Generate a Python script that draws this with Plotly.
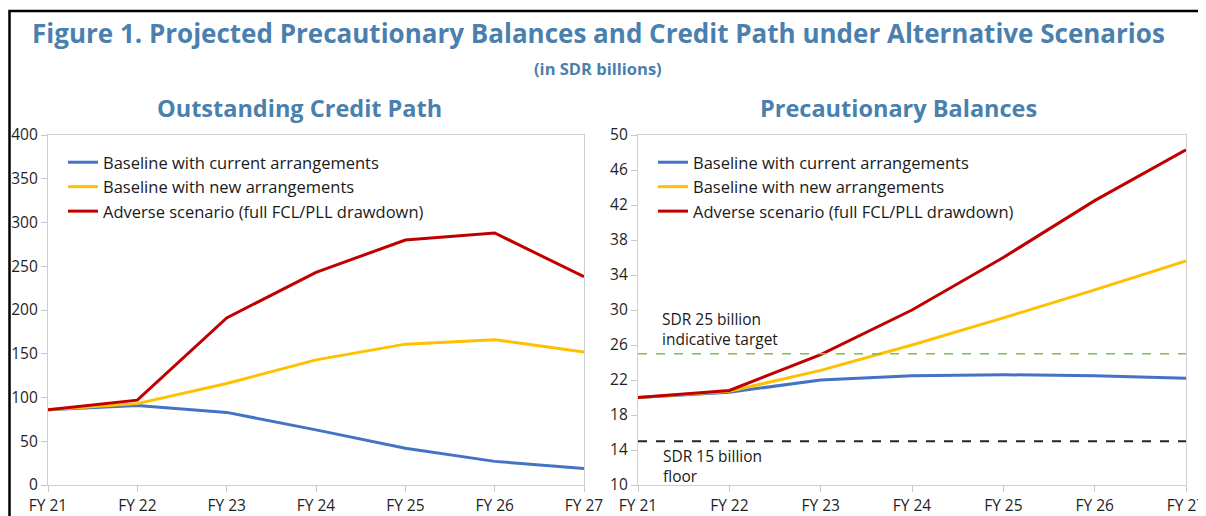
import plotly.graph_objects as go

# DATA
years = ["FY 21", "FY 22", "FY 23", "FY 24", "FY 25", "FY 26", "FY 27"]

credit_current = [86, 91, 83, 63, 42, 27, 19]
credit_new = [86, 93, 116, 143, 161, 166, 152]
credit_adverse = [86, 97, 191, 243, 280, 288, 238]

balances_current = [20.0, 20.6, 22.0, 22.5, 22.6, 22.5, 22.2]
balances_new = [20.0, 20.7, 23.1, 26.0, 29.1, 32.3, 35.6]
balances_adverse = [20.0, 20.8, 24.9, 30.0, 36.0, 42.5, 48.3]

series_names = [
    "Baseline with current arrangements",
    "Baseline with new arrangements",
    "Adverse scenario (full FCL/PLL drawdown)",
]
series_colors = ["#4472C4", "#FFC000", "#C00000"]

target_level = 25
floor_level = 15

credit_ticks = [0, 50, 100, 150, 200, 250, 300, 350, 400]
balance_ticks = [10, 14, 18, 22, 26, 30, 34, 38, 42, 46, 50]

# the page body adds an 8px margin, so the figure is sized and placed to suit
OFF = 8
W, H = 1206 - OFF, 516 - OFF
FONT = "Open Sans"
BLUE_TITLE = "#4A7FAE"


def px_x(p):
    return (p - OFF) / W


def px_y(p):
    return 1 - (p - OFF) / H


fig = go.Figure()

left = [credit_current, credit_new, credit_adverse]
right = [balances_current, balances_new, balances_adverse]
for i, (name, color) in enumerate(zip(series_names, series_colors)):
    fig.add_trace(go.Scatter(
        x=years, y=left[i], name=name, mode="lines",
        line=dict(color=color, width=3),
        xaxis="x", yaxis="y", legend="legend", legendgroup=f"l{i}",
    ))
for i, (name, color) in enumerate(zip(series_names, series_colors)):
    fig.add_trace(go.Scatter(
        x=years, y=right[i], name=name, mode="lines",
        line=dict(color=color, width=3),
        xaxis="x2", yaxis="y2", legend="legend2", legendgroup=f"r{i}",
    ))

axis_common = dict(
    showline=True, mirror=True, linecolor="#d0d0d0", linewidth=1.2,
    ticks="outside", ticklen=6, tickcolor="#c8c8c8",
    showgrid=False, zeroline=False, automargin=False,
    tickfont=dict(family=FONT, size=15.5, color="#1f1f1f"),
)
xdom_left = [px_x(48), px_x(584)]
xdom_right = [px_x(638), px_x(1186)]
ydom = [px_y(485), px_y(135)]

legend_common = dict(
    xanchor="left", yanchor="top", bgcolor="rgba(0,0,0,0)",
    font=dict(family=FONT, size=16.5, color="#1a1a1a"),
    traceorder="grouped", tracegroupgap=0, itemclick=False,
)

fig.update_layout(
    width=W, height=H,
    margin=dict(l=0, r=0, t=0, b=0),
    paper_bgcolor="white", plot_bgcolor="white",
    font=dict(family=FONT),
    xaxis=dict(domain=xdom_left, anchor="y", type="category", range=[0, 6], **axis_common),
    yaxis=dict(domain=ydom, anchor="x", range=[0, 400], tickvals=credit_ticks, **axis_common),
    xaxis2=dict(domain=xdom_right, anchor="y2", type="category", range=[0, 6], **axis_common),
    yaxis2=dict(domain=ydom, anchor="x2", range=[10, 50], tickvals=balance_ticks, **axis_common),
    legend=dict(x=px_x(63), y=px_y(145), **legend_common),
    legend2=dict(x=px_x(653), y=px_y(145), **legend_common),
)

# reference lines on precautionary balances
fig.add_shape(type="line", xref="x2 domain", yref="y2", x0=0, x1=1,
              y0=target_level, y1=target_level,
              line=dict(color="#7CC24A", width=1.6, dash="dash"))
fig.add_shape(type="line", xref="x2 domain", yref="y2", x0=0, x1=1,
              y0=floor_level, y1=floor_level,
              line=dict(color="#262626", width=2, dash="dash"))

# outer frame
fig.add_shape(type="rect", xref="paper", yref="paper",
              x0=px_x(9.5), x1=px_x(1202), y0=-0.2, y1=px_y(11),
              line=dict(color="black", width=2.5), layer="below")

annotations = [
    dict(text="<b>Figure 1. Projected Precautionary Balances and Credit Path under Alternative Scenarios</b>",
         x=px_x(598), y=px_y(33), font=dict(size=26, color=BLUE_TITLE)),
    dict(text="<b>(in SDR billions)</b>",
         x=px_x(598), y=px_y(68), font=dict(size=16.5, color=BLUE_TITLE)),
    dict(text="<b>Outstanding Credit Path</b>",
         x=px_x(299), y=px_y(108), font=dict(size=23.5, color=BLUE_TITLE)),
    dict(text="<b>Precautionary Balances</b>",
         x=px_x(898), y=px_y(108), font=dict(size=23.5, color=BLUE_TITLE)),
    dict(text="SDR 25 billion<br>indicative target", align="left", xanchor="left",
         x=px_x(660), y=px_y(329), font=dict(size=15.5, color="#1a1a1a")),
    dict(text="SDR 15 billion<br>floor", align="left", xanchor="left",
         x=px_x(661), y=px_y(466), font=dict(size=15.5, color="#1a1a1a")),
]
for a in annotations:
    a.setdefault("xanchor", "center")
    fig.add_annotation(xref="paper", yref="paper", yanchor="middle",
                       showarrow=False, font_family=FONT, **a)

fig.write_html("out.html")
